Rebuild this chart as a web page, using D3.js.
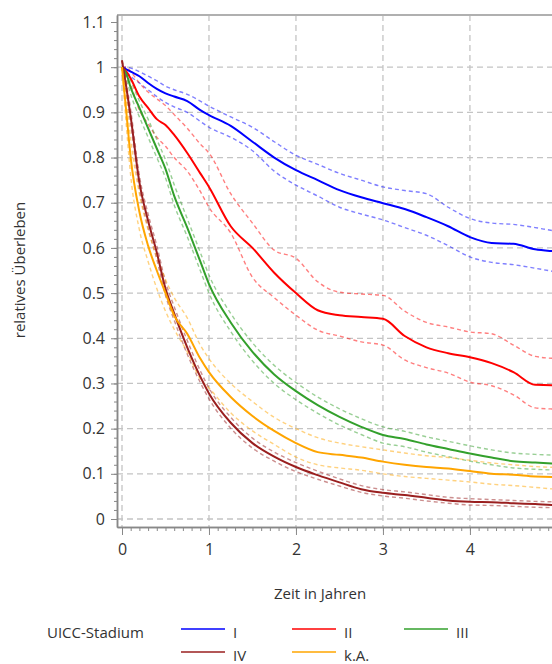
<!DOCTYPE html>
<html>
<head>
<meta charset="utf-8">
<script src="https://cdn.jsdelivr.net/npm/d3@7"></script>
<style>
  body { margin: 0; background: #fff; }
  text { font-family: "Open Sans", "DejaVu Sans", sans-serif; fill: #333; }
</style>
</head>
<body>
<script>
// Zeitpunkte (Jahre)
var times = [0, 0.05, 0.1, 0.2, 0.3, 0.4, 0.5, 0.6, 0.75, 0.9, 1, 1.25, 1.5, 1.75, 2, 2.25, 2.5, 2.75, 3, 3.25, 3.5, 3.75, 4, 4.25, 4.5, 4.75, 5, 5.1]

var stadien = ["I", "II", "III", "IV", "k.A."]
var farben = ["#0000ff", "#ff0000", "#33a02c", "#9a1f1f", "#ffa500"]

// relatives Überleben je Stadium: Schätzer, obere und untere Grenze
var stI      = [1.0, 0.995, 0.99, 0.98, 0.965, 0.952, 0.942, 0.935, 0.925, 0.905, 0.894, 0.87, 0.835, 0.80, 0.772, 0.75, 0.728, 0.712, 0.699, 0.686, 0.668, 0.648, 0.624, 0.611, 0.609, 0.597, 0.592, 0.59]
var stI_hi   = [1.0, 1.0, 0.998, 0.99, 0.98, 0.97, 0.958, 0.95, 0.94, 0.925, 0.914, 0.89, 0.867, 0.835, 0.805, 0.785, 0.765, 0.75, 0.735, 0.727, 0.72, 0.69, 0.665, 0.655, 0.652, 0.645, 0.637, 0.635]
var stI_lo   = [1.0, 0.99, 0.98, 0.965, 0.95, 0.935, 0.922, 0.912, 0.9, 0.88, 0.867, 0.845, 0.815, 0.77, 0.739, 0.715, 0.69, 0.675, 0.662, 0.645, 0.628, 0.605, 0.58, 0.568, 0.563, 0.555, 0.547, 0.545]

var stII     = [1.0, 0.99, 0.975, 0.935, 0.91, 0.885, 0.872, 0.85, 0.81, 0.765, 0.735, 0.648, 0.60, 0.545, 0.50, 0.462, 0.451, 0.447, 0.443, 0.405, 0.38, 0.367, 0.358, 0.345, 0.325, 0.297, 0.296, 0.296]
var stII_hi  = [1.0, 1.0, 0.99, 0.965, 0.945, 0.93, 0.915, 0.895, 0.865, 0.83, 0.81, 0.72, 0.655, 0.595, 0.577, 0.525, 0.502, 0.498, 0.495, 0.46, 0.435, 0.425, 0.414, 0.41, 0.385, 0.36, 0.355, 0.354]
var stII_lo  = [1.0, 0.98, 0.96, 0.905, 0.875, 0.845, 0.825, 0.8, 0.77, 0.725, 0.69, 0.633, 0.535, 0.49, 0.451, 0.418, 0.405, 0.392, 0.385, 0.352, 0.335, 0.323, 0.303, 0.295, 0.275, 0.246, 0.243, 0.242]

var stIII    = [1.0, 0.985, 0.955, 0.91, 0.865, 0.82, 0.775, 0.715, 0.645, 0.57, 0.52, 0.435, 0.37, 0.32, 0.283, 0.252, 0.226, 0.204, 0.186, 0.177, 0.165, 0.155, 0.145, 0.136, 0.128, 0.125, 0.122, 0.121]
var stIII_hi = [1.0, 0.99, 0.97, 0.925, 0.885, 0.84, 0.795, 0.74, 0.665, 0.59, 0.54, 0.455, 0.39, 0.34, 0.302, 0.27, 0.244, 0.222, 0.204, 0.194, 0.182, 0.172, 0.162, 0.153, 0.146, 0.143, 0.141, 0.14]
var stIII_lo = [1.0, 0.975, 0.94, 0.89, 0.845, 0.8, 0.755, 0.695, 0.625, 0.55, 0.5, 0.415, 0.35, 0.3, 0.264, 0.234, 0.208, 0.187, 0.168, 0.16, 0.148, 0.138, 0.128, 0.12, 0.113, 0.11, 0.108, 0.107]

var stIV     = [1.015, 0.955, 0.89, 0.745, 0.66, 0.59, 0.51, 0.455, 0.38, 0.315, 0.278, 0.213, 0.168, 0.138, 0.115, 0.097, 0.081, 0.066, 0.058, 0.053, 0.047, 0.041, 0.038, 0.037, 0.035, 0.033, 0.031, 0.031]
var stIV_hi  = [1.015, 0.965, 0.905, 0.76, 0.675, 0.605, 0.525, 0.47, 0.395, 0.328, 0.29, 0.225, 0.179, 0.148, 0.125, 0.106, 0.089, 0.074, 0.065, 0.06, 0.054, 0.048, 0.045, 0.043, 0.041, 0.039, 0.038, 0.038]
var stIV_lo  = [1.015, 0.945, 0.875, 0.73, 0.645, 0.575, 0.495, 0.44, 0.365, 0.302, 0.266, 0.201, 0.157, 0.128, 0.105, 0.088, 0.073, 0.059, 0.051, 0.046, 0.04, 0.035, 0.031, 0.03, 0.028, 0.026, 0.025, 0.025]

var stKA     = [1.0, 0.9, 0.8, 0.68, 0.605, 0.55, 0.5, 0.45, 0.41, 0.355, 0.325, 0.27, 0.228, 0.195, 0.168, 0.148, 0.142, 0.136, 0.127, 0.12, 0.115, 0.112, 0.106, 0.1, 0.098, 0.094, 0.093, 0.093]
var stKA_hi  = [1.0, 0.93, 0.84, 0.72, 0.64, 0.58, 0.53, 0.49, 0.445, 0.385, 0.355, 0.3, 0.26, 0.225, 0.2, 0.18, 0.168, 0.16, 0.153, 0.146, 0.14, 0.136, 0.13, 0.124, 0.12, 0.116, 0.114, 0.113]
var stKA_lo  = [1.0, 0.87, 0.76, 0.64, 0.57, 0.51, 0.46, 0.42, 0.37, 0.31, 0.29, 0.235, 0.195, 0.165, 0.137, 0.12, 0.113, 0.108, 0.1, 0.094, 0.09, 0.086, 0.082, 0.077, 0.074, 0.07, 0.066, 0.065]

var yMajor = [0, 0.1, 0.2, 0.3, 0.4, 0.5, 0.6, 0.7, 0.8, 0.9, 1, 1.1]
var yLabels = ["0", "0.1", "0.2", "0.3", "0.4", "0.5", "0.6", "0.7", "0.8", "0.9", "1", "1.1"]
var xMajor = [0, 1, 2, 3, 4, 5]

var kurven = [
  [stI, stI_hi, stI_lo],
  [stII, stII_hi, stII_lo],
  [stIII, stIII_hi, stIII_lo],
  [stIV, stIV_hi, stIV_lo],
  [stKA, stKA_hi, stKA_lo]
]

var svg = d3.select("body").append("svg")
  .attr("width", 552)
  .attr("height", 664)

/* SKALEN */

var xScale = d3.scaleLinear().domain([-0.0575, 5.3]).range([117, 583])
var yScale = d3.scaleLinear().domain([-0.0177, 1.1155]).range([527, 15])

/* GITTER */

svg.append("g")
  .selectAll("line")
  .data(yMajor.filter(d => d <= 1))
  .enter()
  .append("line")
  .attr("x1", 117).attr("x2", 552)
  .attr("y1", d => yScale(d)).attr("y2", d => yScale(d))
  .attr("stroke", "#c4c4c4")
  .attr("stroke-width", 1.3)
  .attr("stroke-dasharray", "6,4")

svg.append("g")
  .selectAll("line")
  .data(xMajor)
  .enter()
  .append("line")
  .attr("x1", d => xScale(d)).attr("x2", d => xScale(d))
  .attr("y1", 15).attr("y2", 527)
  .attr("stroke", "#c4c4c4")
  .attr("stroke-width", 1.3)
  .attr("stroke-dasharray", "6,4")

// oberer Rahmen
svg.append("line")
  .attr("x1", 117).attr("x2", 552)
  .attr("y1", 15).attr("y2", 15)
  .attr("stroke", "#b0b0b0")
  .attr("stroke-width", 2)

/* KURVEN */

svg.append("clipPath").attr("id", "plot")
  .append("rect").attr("x", 118).attr("y", 16).attr("width", 440).attr("height", 510)

var line = d3.line()
  .x((d, i) => xScale(times[i]))
  .y(d => yScale(d))
  .curve(d3.curveMonotoneX)

var gKurven = svg.append("g").attr("clip-path", "url(#plot)")

// Konfidenzgrenzen zuerst, gestrichelt
kurven.forEach(function(k, s) {
  [k[1], k[2]].forEach(function(grenze) {
    gKurven.append("path")
      .attr("d", line(grenze))
      .attr("fill", "none")
      .attr("stroke", farben[s])
      .attr("stroke-opacity", 0.5)
      .attr("stroke-width", 1.4)
      .attr("stroke-dasharray", "4,3")
  })
})

kurven.forEach(function(k, s) {
  gKurven.append("path")
    .attr("d", line(k[0]))
    .attr("fill", "none")
    .attr("stroke", farben[s])
    .attr("stroke-width", 2)
})

/* ACHSEN */

var yAxisMinor = d3.axisLeft(yScale)
  .tickValues(d3.range(0, 56).map(i => i * 0.02))
  .tickSize(3).tickSizeOuter(0).tickFormat("")
var yAxis = d3.axisLeft(yScale)
  .tickValues(yMajor).tickSize(6).tickSizeOuter(0).tickPadding(6)
  .tickFormat((d, i) => yLabels[i])

var xAxisMinor = d3.axisBottom(xScale)
  .tickValues(d3.range(0, 54).map(i => i * 0.1))
  .tickSize(4).tickSizeOuter(0).tickFormat("")
var xAxis = d3.axisBottom(xScale)
  .tickValues(xMajor).tickSize(8).tickSizeOuter(0).tickPadding(9)
  .tickFormat(d3.format("d"))

svg.append("g").attr("class", "axis").attr("transform", "translate(117,0)").call(yAxisMinor)
svg.append("g").attr("class", "axis").attr("transform", "translate(117,0)").call(yAxis)
svg.append("g").attr("class", "axis").attr("transform", "translate(0,527)").call(xAxisMinor)
svg.append("g").attr("class", "axis").attr("transform", "translate(0,527)").call(xAxis)

svg.selectAll(".axis path").attr("stroke", "#888").attr("stroke-width", 1.5)
svg.selectAll(".axis line").attr("stroke", "#888")
svg.selectAll(".axis text")
  .style("font-family", "'Open Sans', sans-serif")
  .style("font-size", "16px")
  .attr("fill", "#333")

/* BESCHRIFTUNG */

svg.append("text")
  .attr("transform", "translate(25,270) rotate(-90)")
  .attr("text-anchor", "middle")
  .attr("font-size", "15px")
  .text("relatives Überleben")

svg.append("text")
  .attr("x", 320).attr("y", 599)
  .attr("text-anchor", "middle")
  .attr("font-size", "15px")
  .text("Zeit in Jahren")

/* LEGENDE */

svg.append("text")
  .attr("x", 47).attr("y", 638)
  .attr("font-size", "15px")
  .text("UICC-Stadium")

var legX = [181, 292, 404, 181, 292]
var legY = [629, 629, 629, 652, 652]

var leg = svg.append("g")
  .selectAll("g")
  .data(stadien)
  .enter()
  .append("g")

leg.append("line")
  .attr("x1", (d, i) => legX[i]).attr("x2", (d, i) => legX[i] + 44)
  .attr("y1", (d, i) => legY[i]).attr("y2", (d, i) => legY[i])
  .attr("stroke", (d, i) => farben[i])
  .attr("stroke-opacity", 0.75)
  .attr("stroke-width", 2)

leg.append("text")
  .attr("x", (d, i) => legX[i] + 52)
  .attr("y", (d, i) => legY[i] + 9)
  .attr("font-size", "15px")
  .text(d => d)
</script>
</body>
</html>
